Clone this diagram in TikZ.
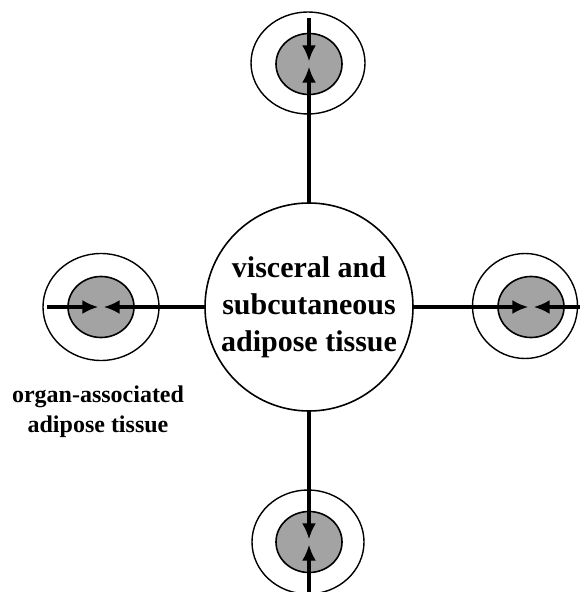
\documentclass[tikz,border=0pt]{standalone}
\usepackage{fontspec}
\setmainfont{Liberation Serif}
\usetikzlibrary{positioning,shapes.geometric,arrows.meta}
\definecolor{fatgray}{RGB}{163,163,163}
\tikzset{ %inner sep = 0,
  >={Latex[length=8pt,width=7pt]},
  tissue/.style={circle,draw,line width=0.8pt,minimum size=104pt,inner sep=0,
    align=center,font=\bfseries\fontsize{15}{18.5}\selectfont},
  {outer/.style} ={ellipse,draw,line width=0.7pt,inner sep=0},
  {organ/.style} ={ellipse,draw,line width=0.8pt,fill=fatgray,inner sep=0,
    minimum width=33pt,minimum height=30.5pt},
  {flow/.style} ={draw,->,line width=2pt,shorten >=1.3pt},
 }
\begin{document}
\begin{tikzpicture}[x=0.5pt,y=-0.5pt]
        \useasboundingbox (0,0) rectangle (584,592);
        \node[tissue] (vat) at (309,307)
                {visceral and\\subcutaneous\\adipose tissue};
        \node[outer,minimum width=57pt,minimum height=51pt] (topout) at (308,63) {};
        \node[organ] (topin) at (309,64) {};
        \node[outer,minimum width=58pt,minimum height=53.5pt] (leftout) at (101,307) {};
        \node[organ] (leftin) at (101,307) {};
        \node[outer,minimum width=52.5pt,minimum height=52.5pt] (rightout) at (525,306) {};
        \node[organ] (rightin) at (531,307) {};
        \node[outer,minimum width=56pt,minimum height=52pt] (botout) at (308,542) {};
        \node[organ] (botin) at (309,542) {};
        \node[align=center,font=\bfseries\fontsize{12}{15}\selectfont] (label)
                at (98,412) {organ-associated\\adipose tissue};
        % free ends of the inward arrows
        \coordinate (topend) at (309,18);
        \coordinate (leftend) at (47,307);
        \coordinate (rightend) at (580,307);
        \coordinate (botend) at (309,592);
        \path[flow] (topend) -- (topin.center);
        \path[flow] (vat) -- (topin.center);
        \path[flow] (leftend) -- (leftin.center);
        \path[flow] (vat) -- (leftin.center);
        \path[flow] (rightend) -- (rightin.center);
        \path[flow] (vat) -- (rightin.center);
        \path[flow] (botend) -- (botin.center);
        \path[flow] (vat) -- (botin.center);
\end{tikzpicture}
\end{document}
